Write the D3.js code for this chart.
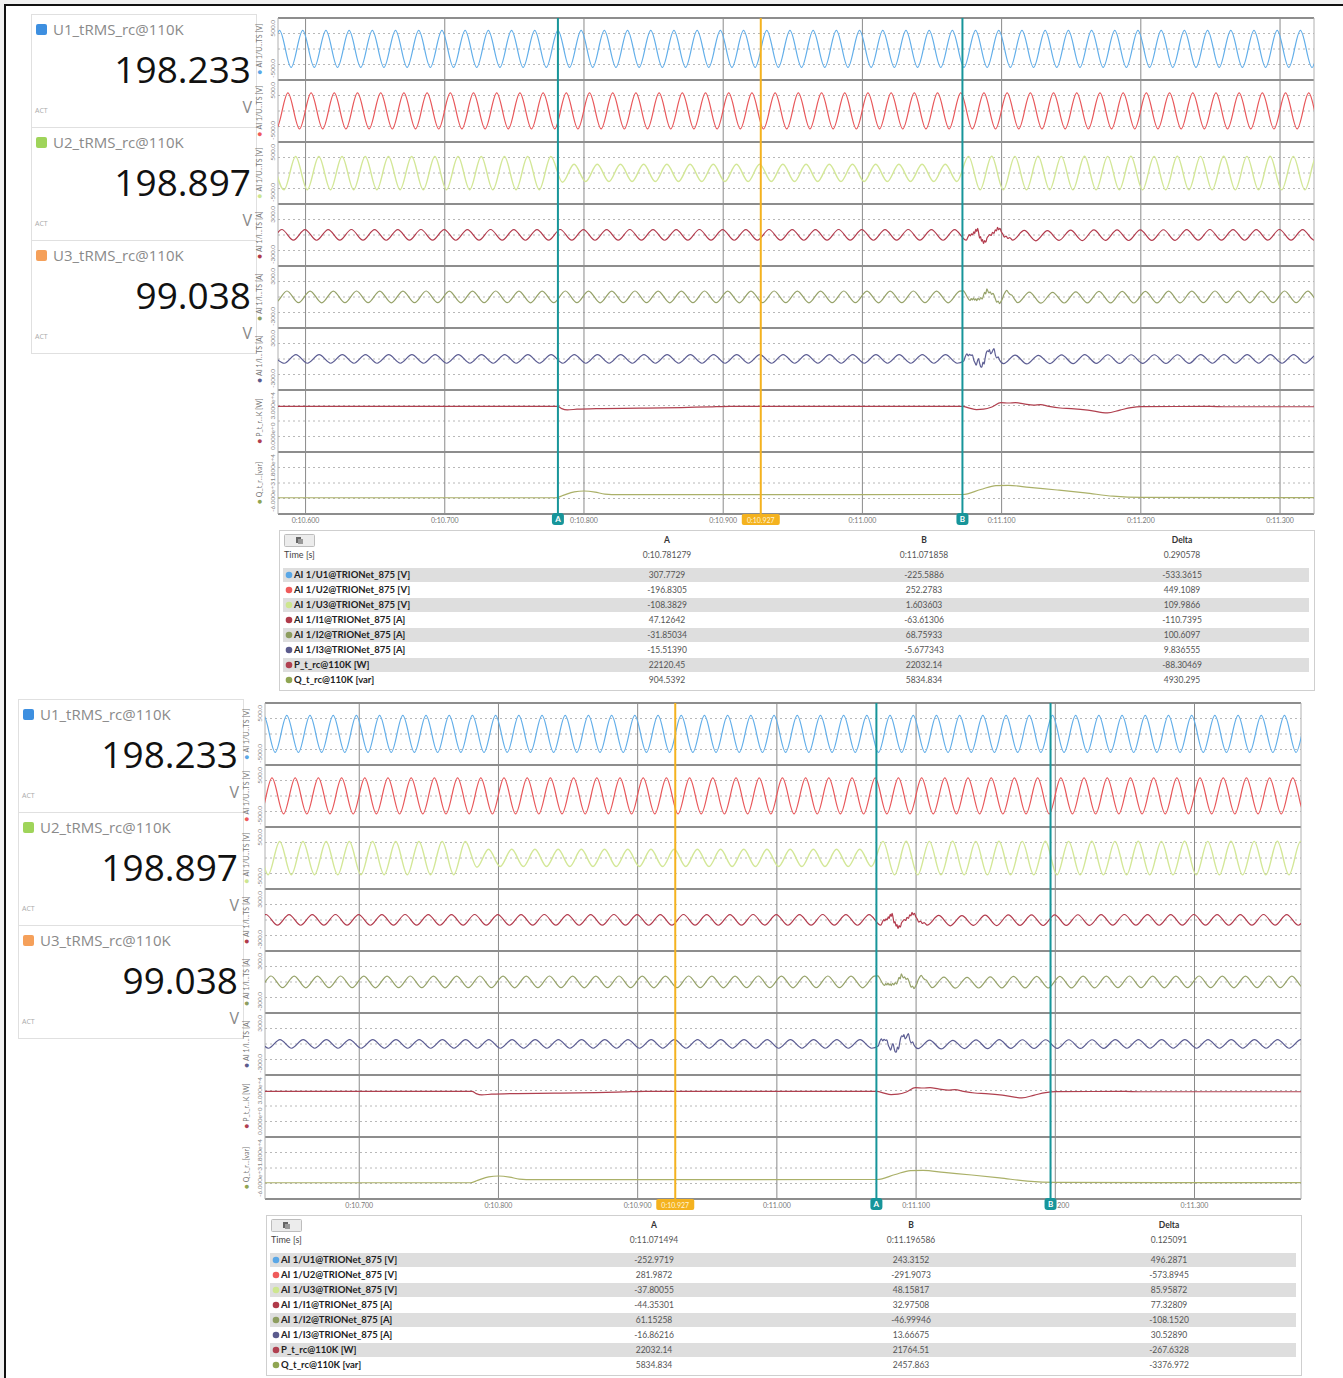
<!DOCTYPE html>
<html><head><meta charset="utf-8">
<script src="https://cdn.jsdelivr.net/npm/d3@7"></script>
<style>
body{margin:0;background:#fff;}
svg{display:block;}
</style></head><body>
<svg id="c" width="1343" height="1378"></svg>
<script>
// ---------------- DATA ----------------
const HALF_PERIOD = 1 / 120;           // 60 Hz half cycle, s
// time of first extremum (a positive peak) for each AC channel
const U1_t0 = 10.56463, U2_t0 = 10.57065, U3_t0 = 10.57621;
const I1_t0 = 10.56625, I2_t0 = 10.56995, I3_t0 = 10.57639;

// magnitudes of successive extrema (peak, trough, peak, ...); null = replaced by the disturbance trace
const U1_ext = [
300,297,301,298,300,297,300,298,301,297, 300,298,301,297,300,298,300,297,301,298,
300,297,301,298,300,297,300,298,301,297, 300,298,301,297,300,298,300,297,301,298,
300,297,301,298,300,297,300,298,301,297, 300,298,301,297,300,298,300,297,301,298,
300,297,301,298,300,297,300,298,301,297, 300,298,301,297,300,298,300,297,301,298,
300,297,301,298,300,297,300,298,301,297, 300,298,301,297,300,298,300,297,301,298];
const U2_ext = [
292,289,293,290,292,289,292,290,293,289, 292,290,293,289,292,290,292,289,293,290,
292,289,293,290,292,289,292,290,293,289, 292,290,293,289,292,290,292,289,293,290,
292,289,293,290,292,289,292,290,293,289, 292,290,293,289,292,290,292,289,293,290,
292,289,293,290,292,289,292,290,293,289, 292,290,293,289,292,290,292,289,293,290,
292,289,293,290,292,289,292,290,293,289, 292,290,293,289,292,290,292,289,293,290];
const U3_ext = [
266,270,267,270,266,271,267,270,266,270, 267,270,266,271,267,270,266,270,267,271,
266,270,267,270,266,150,140,137,141,138, 140,137,141,138,140,137,141,138,140,137,
141,138,140,137,141,138,140,137,141,138, 140,137,141,138,140,137,141,138,140,137,
268,271,269,272,268,271,269,272,268,271, 269,272,268,271,269,272,268,271,269,272,
268,271,269,272,268,271,269,272,268,271, 269,272,268,271,269,272,268,271,269,272];
const I1_ext = [
52,50,53,50,52,51,52,50,53,50, 52,51,52,50,53,50,52,51,52,50,
53,50,52,51,52,50,53,50,52,51, 52,50,53,50,52,51,52,50,53,50,
52,51,52,50,53,50,52,51,52,50, 53,50,52,51,52,50,53,50,52,51,
52,50,null,null,null,50,44,56,42,52, 47,54,49,52,50,53,50,52,51,52,
52,50,53,50,52,51,52,50,53,50, 52,51,52,50,53,50,52,51,52,50];
const I2_ext = [
57,55,58,55,57,56,57,55,58,55, 57,56,57,55,58,55,57,56,57,55,
58,55,57,56,57,55,58,55,57,56, 57,55,58,55,57,56,57,55,58,55,
57,56,57,55,58,55,57,56,57,55, 58,55,57,56,57,55,58,55,57,56,
57,null,null,null,null,55,48,60,45,58, 50,56,55,57,55,58,55,57,56,57,
57,55,58,55,57,56,57,55,58,55, 57,56,57,55,58,55,57,56,57,55];
const I3_ext = [
42,41,43,41,42,41,42,41,43,41, 42,41,42,41,43,41,42,41,42,41,
43,41,42,41,42,41,43,41,42,41, 42,41,43,41,42,41,42,41,43,41,
42,41,42,41,43,41,42,41,42,41, 43,41,42,41,42,41,43,41,42,41,
null,null,null,45,38,48,36,44,40,45, 42,42,41,43,41,42,41,43,41,42,
42,41,43,41,42,41,42,41,43,41, 42,41,42,41,43,41,42,41,42,41];

// disturbance traces [t (s), value]
const I1_noise = [[11.0760,-15],[11.0768,5],[11.0776,-8],[11.0784,10],[11.0792,2],[11.0800,30],[11.0807,15],
[11.0814,55],[11.0821,35],[11.0828,64],[11.0835,20],[11.0842,-30],[11.0849,-15],[11.0856,-60],[11.0863,-45],
[11.0870,-82],[11.0878,-55],[11.0886,-70],[11.0895,-30],[11.0905,-10],[11.0915,5],[11.0925,-5],[11.0935,25],
[11.0945,15],[11.0955,50],[11.0963,40],[11.0971,73],[11.0979,50],[11.0988,65],[11.0997,35],[11.1008,10],
[11.1020,-20],[11.1032,-10],[11.1045,-33],[11.1058,-25]];
const I2_noise = [[11.0725,60],[11.0735,45],[11.0745,20],[11.0755,-5],[11.0765,-25],[11.0774,-32],[11.0782,-15],
[11.0790,-28],[11.0798,-10],[11.0806,-30],[11.0814,-18],[11.0822,-35],[11.0830,-12],[11.0840,-28],[11.0850,-5],
[11.0860,-20],[11.0870,15],[11.0878,45],[11.0886,30],[11.0894,80],[11.0902,55],[11.0910,40],[11.0918,50],
[11.0928,25],[11.0938,35],[11.0948,10],[11.0958,-30],[11.0966,-50],[11.0975,-40],[11.0985,-64],[11.0995,-45],
[11.1005,-20],[11.1015,20],[11.1025,45],[11.1037,64],[11.1050,40],[11.1062,25],[11.1075,16],[11.1090,-15]];
const I3_noise = [[11.0728,-20],[11.0738,20],[11.0750,50],[11.0760,30],[11.0770,45],[11.0780,35],[11.0790,40],
[11.0800,-10],[11.0810,-40],[11.0818,-60],[11.0826,-20],[11.0834,5],[11.0842,-40],[11.0850,-75],[11.0858,-80],
[11.0866,-30],[11.0874,-50],[11.0882,10],[11.0890,60],[11.0898,80],[11.0905,70],[11.0913,90],[11.0921,50],
[11.0929,60],[11.0937,85],[11.0945,100],[11.0955,40],[11.0965,10],[11.0975,20],[11.0985,-10]];

const P_pts = [[10.575,22100],[10.7810,22120],[10.7840,21000],[10.7880,20400],[10.7950,20700],[10.8100,21000],
[10.8400,21200],[10.8700,21500],[10.8900,21850],[10.9050,22100],[11.0719,22120],[11.0770,21200],[11.0820,20500],
[11.0870,20700],[11.0930,21800],[11.0995,23900],[11.1050,23700],[11.1100,23900],[11.1160,23300],[11.1230,22700],
[11.1280,22900],[11.1340,22100],[11.1420,21300],[11.1500,21000],[11.1620,20300],[11.1760,18900],[11.1850,20300],
[11.1930,21500],[11.2000,22000],[11.2500,22032],[11.2600,21900],[11.3850,21900]];
const Q_pts = [[10.575,300],[10.7800,300],[10.7850,1200],[10.7930,2600],[10.8000,2900],[10.8080,2500],[10.8150,1700],
[10.8250,1500],[11.0720,1550],[11.0850,3500],[11.0960,5000],[11.1050,5100],[11.1200,4300],[11.1400,3300],
[11.1600,2200],[11.1800,900],[11.2000,400],[11.3850,350]];

const bandDomains = [[-500,500],[-500,500],[-500,500],[-300,300],[-300,300],[-300,300],[0,30000],[-6000,18000]];
const bandHi = ["500.0","500.0","500.0","300.0","300.0","300.0","3.000e+4","1.800e+4"];
const bandLo = ["-500.0","-500.0","-500.0","-300.0","-300.0","-300.0","0.000e+0","-6.000e+3"];
const bandNames = ["AI 1/U...TS [V]","AI 1/U...TS [V]","AI 1/U...TS [V]","AI 1/I...TS [A]","AI 1/I...TS [A]","AI 1/I...TS [A]","P_t_r...K [W]","Q_t_r...[var]"];

const meterNames = ["U1_tRMS_rc@110K","U2_tRMS_rc@110K","U3_tRMS_rc@110K"];
const meterValues = ["198.233","198.897","99.038"];
const meterUnits = ["V","V","V"];

const rowLabels = ["AI 1/U1@TRIONet_875 [V]","AI 1/U2@TRIONet_875 [V]","AI 1/U3@TRIONet_875 [V]",
"AI 1/I1@TRIONet_875 [A]","AI 1/I2@TRIONet_875 [A]","AI 1/I3@TRIONet_875 [A]","P_t_rc@110K [W]","Q_t_rc@110K [var]"];

const ticksTop = [10.6,10.7,10.8,10.9,11.0,11.1,11.2,11.3];
const ticksBottom = [10.7,10.8,10.9,11.0,11.1,11.2,11.3];
const cursorsTop = [["A",10.781279],["B",11.071858]];
const cursorsBottom = [["A",11.071494],["B",11.196586]];
const orangeT = 10.927, orangeLabel = "0:10.927";

const tableTop = {
  times:["0:10.781279","0:11.071858","0.290578"],
  A:["307.7729","-196.8305","-108.3829","47.12642","-31.85034","-15.51390","22120.45","904.5392"],
  B:["-225.5886","252.2783","1.603603","-63.61306","68.75933","-5.677343","22032.14","5834.834"],
  D:["-533.3615","449.1089","109.9866","-110.7395","100.6097","9.836555","-88.30469","4930.295"]};
const tableBottom = {
  times:["0:11.071494","0:11.196586","0.125091"],
  A:["-252.9719","281.9872","-37.80055","-44.35301","61.15258","-16.86216","22032.14","5834.834"],
  B:["243.3152","-291.9073","48.15817","32.97508","-46.99946","13.66675","21764.51","2457.863"],
  D:["496.2871","-573.8945","85.95872","77.32809","-108.1520","30.52890","-267.6328","-3376.972"]};

// ---------------- STYLE ----------------
const waveColors = ["#62aee9","#e8575a","#d3e797","#b23a4c","#96a269","#5c5d93","#b0404f","#aab068"];
const dotColors  = ["#5aa7e6","#ef5b5b","#cde68f","#b03a4a","#8d9d5f","#5b5b8d","#b04050","#8fa552"];
const meterColors = ["#3d8fe0","#9fd45a","#f5a05a"];
const TEAL = "#17959a", ORANGE = "#f4b21f";

// ---------------- BUILD ----------------
function buildSeries(t0, ext, noise) {
  const pts = [];
  ext.forEach((m, i) => { if (m == null) return; pts.push([t0 + i * HALF_PERIOD, i % 2 === 0 ? m : -m]); });
  if (noise) noise.forEach(p => pts.push(p));
  pts.sort((a, b) => a[0] - b[0]);
  return pts;
}
const seriesList = [
  buildSeries(U1_t0, U1_ext, null), buildSeries(U2_t0, U2_ext, null), buildSeries(U3_t0, U3_ext, null),
  buildSeries(I1_t0, I1_ext, I1_noise), buildSeries(I2_t0, I2_ext, I2_noise), buildSeries(I3_t0, I3_ext, I3_noise),
  P_pts, Q_pts];

const svg = d3.select("#c");
const FONT = "Lato, 'Open Sans', sans-serif";
svg.append("rect").attr("width",1343).attr("height",1378).attr("fill","#fff");
svg.append("rect").attr("width",1343).attr("height",5).attr("fill","#f1f1f1");
svg.append("rect").attr("width",5).attr("height",1378).attr("fill","#f1f1f1");
svg.append("line").attr("x1",4).attr("x2",1343).attr("y1",5).attr("y2",5).attr("stroke","#111").attr("stroke-width",2);
svg.append("line").attr("x1",5).attr("x2",5).attr("y1",4).attr("y2",1378).attr("stroke","#111").attr("stroke-width",2);

let panelId = 0;
function drawPanel(ox, oy, dom, ticks, cursors, tab) {
  panelId++;
  const g = svg.append("g").attr("transform", `translate(${ox},${oy})`);
  const L = 278, R = 1314, T = 18, BH = 62, NB = 8, B = T + NB * BH;
  const x = d3.scaleLinear().domain(dom).range([L, R]);

  // meters
  meterNames.forEach((nm, k) => {
    const y0 = 14 + k * 113;
    g.append("rect").attr("x",31.5).attr("y",y0+0.5).attr("width",225).attr("height",113)
      .attr("fill","#fff").attr("stroke","#e0e0e0");
    g.append("rect").attr("x",36).attr("y",y0+10).attr("width",11).attr("height",11).attr("rx",2).attr("fill",meterColors[k]);
    g.append("text").attr("x",53).attr("y",y0+21).text(nm)
      .attr("font-family","'Open Sans', sans-serif").attr("font-size",15).attr("fill","#8a8a8a");
    g.append("text").attr("x",251).attr("y",y0+69).attr("text-anchor","end").text(meterValues[k])
      .attr("font-family","'Open Sans', sans-serif").attr("font-size",37).attr("fill","#111");
    g.append("text").attr("x",35).attr("y",y0+99).text("ACT")
      .attr("font-family","'Open Sans', sans-serif").attr("font-size",7).attr("fill","#aaa");
    g.append("text").attr("x",252).attr("y",y0+99).attr("text-anchor","end").text(meterUnits[k])
      .attr("font-family","'Open Sans', sans-serif").attr("font-size",16).attr("fill","#888");
  });

  // plot background
  g.append("rect").attr("x",L).attr("y",T).attr("width",R-L).attr("height",B-T).attr("fill","#fff");
  // dotted grid
  for (let b = 0; b < NB; b++) {
    [0.25,0.5,0.75].forEach(f => {
      const yy = T + b*BH + f*BH;
      g.append("line").attr("x1",L).attr("x2",R).attr("y1",yy).attr("y2",yy)
        .attr("stroke","#b8b8b8").attr("stroke-width",1).attr("stroke-dasharray","2,3");
    });
  }
  // vertical grid
  ticks.forEach(t => {
    g.append("line").attr("x1",x(t)).attr("x2",x(t)).attr("y1",T).attr("y2",B)
      .attr("stroke","#8a8a8a").attr("stroke-width",1);
  });
  // band separators
  for (let k = 0; k <= NB; k++) {
    const yy = T + k*BH;
    g.append("line").attr("x1",L).attr("x2",R).attr("y1",yy).attr("y2",yy)
      .attr("stroke","#8d8d8d").attr("stroke-width",1.8);
  }
  g.append("line").attr("x1",L).attr("x2",L).attr("y1",T).attr("y2",B).attr("stroke","#b0b0b0");
  g.append("line").attr("x1",R).attr("x2",R).attr("y1",T).attr("y2",B).attr("stroke","#b0b0b0");

  // clip
  const cid = "clip" + panelId;
  g.append("clipPath").attr("id",cid).append("rect").attr("x",L).attr("y",T).attr("width",R-L).attr("height",B-T);
  const wg = g.append("g").attr("clip-path",`url(#${cid})`);
  seriesList.forEach((pts, b) => {
    const y = d3.scaleLinear().domain(bandDomains[b]).range([T+(b+1)*BH, T+b*BH]);
    const line = d3.line().x(d => x(d[0])).y(d => y(d[1])).curve(d3.curveMonotoneX);
    wg.append("path").attr("d", line(pts)).attr("fill","none")
      .attr("stroke", waveColors[b]).attr("stroke-width", b === 2 ? 1.4 : 1.2);
  });

  // y labels (rotated)
  for (let b = 0; b < NB; b++) {
    const top = T + b*BH, bot = top + BH, cy = top + BH/2;
    const t1 = g.append("text").attr("transform",`translate(262,${cy}) rotate(-90)`).attr("text-anchor","middle")
      .attr("font-family",FONT).attr("font-size",7).attr("fill","#777");
    t1.append("tspan").attr("fill",dotColors[b]).attr("font-size",8).text("● ");
    t1.append("tspan").text(bandNames[b]);
    g.append("text").attr("transform",`translate(275,${top+2}) rotate(-90)`).attr("text-anchor","end")
      .attr("font-family",FONT).attr("font-size",6.5).attr("fill","#888").text(bandHi[b]);
    g.append("text").attr("transform",`translate(275,${bot-2}) rotate(-90)`).attr("text-anchor","start")
      .attr("font-family",FONT).attr("font-size",6.5).attr("fill","#888").text(bandLo[b]);
  }

  // x tick labels (a label partly hidden under a cursor marker shows only its tail, as in the source)
  ticks.forEach(t => {
    const tx = x(t);
    const covered = cursors.some(c => Math.abs(x(c[1]) - tx) < 6);
    g.append("text").attr("x", covered ? tx + 8 : tx).attr("y",523).attr("text-anchor","middle")
      .attr("font-family",FONT).attr("font-size",7).attr("fill","#777")
      .text(covered ? t.toFixed(3).slice(-3) : "0:" + t.toFixed(3));
  });

  // cursors
  g.append("line").attr("x1",x(orangeT)).attr("x2",x(orangeT)).attr("y1",T).attr("y2",B)
    .attr("stroke",ORANGE).attr("stroke-width",2);
  cursors.forEach(c => {
    g.append("line").attr("x1",x(c[1])).attr("x2",x(c[1])).attr("y1",T).attr("y2",B)
      .attr("stroke",TEAL).attr("stroke-width",2);
  });
  g.append("rect").attr("x",x(orangeT)-19).attr("y",514).attr("width",38).attr("height",11).attr("rx",2).attr("fill",ORANGE);
  g.append("text").attr("x",x(orangeT)).attr("y",522.5).attr("text-anchor","middle")
    .attr("font-family",FONT).attr("font-size",7).attr("fill","#fff4d8").text(orangeLabel);
  cursors.forEach(c => {
    const cx = x(c[1]);
    g.append("rect").attr("x",cx-6).attr("y",513).attr("width",12).attr("height",12).attr("rx",3).attr("fill",TEAL);
    g.append("text").attr("x",cx).attr("y",522).attr("text-anchor","middle").attr("font-family",FONT)
      .attr("font-weight","bold").attr("font-size",8).attr("fill","#fff").text(c[0]);
  });

  // table
  const TL = 279, TR = 1314, TT = 530, TB = 690;
  g.append("rect").attr("x",TL+0.5).attr("y",TT+0.5).attr("width",TR-TL).attr("height",TB-TT)
    .attr("fill","#fff").attr("stroke","#cfcfcf");
  g.append("rect").attr("x",284.5).attr("y",534.5).attr("width",30).attr("height",12).attr("rx",1)
    .attr("fill","#ececec").attr("stroke","#bdbdbd");
  g.append("rect").attr("x",296).attr("y",537).attr("width",5).attr("height",6).attr("fill","#666");
  g.append("rect").attr("x",298).attr("y",539).attr("width",5).attr("height",5).attr("fill","#999");
  g.append("text").attr("x",284).attr("y",558).attr("font-family",FONT).attr("font-size",9).attr("fill","#444").text("Time [s]");
  const colX = [667, 924, 1182], heads = ["A","B","Delta"];
  colX.forEach((cx, k) => {
    g.append("text").attr("x",cx).attr("y",543).attr("text-anchor","middle").attr("font-family",FONT)
      .attr("font-weight","bold").attr("font-size",8.5).attr("fill","#333").text(heads[k]);
    g.append("text").attr("x",cx).attr("y",558).attr("text-anchor","middle").attr("font-family",FONT)
      .attr("font-size",8.5).attr("fill","#555").text(tab.times[k]);
  });
  rowLabels.forEach((lab, r) => {
    const cy = 575 + 15*r;
    if (r % 2 === 0) g.append("rect").attr("x",283).attr("y",cy-7).attr("width",1026).attr("height",14).attr("fill","#dedede");
    g.append("circle").attr("cx",289).attr("cy",cy).attr("r",3.3).attr("fill",dotColors[r]);
    g.append("text").attr("x",294).attr("y",cy+3).attr("font-family",FONT).attr("font-weight","bold")
      .attr("font-size",9.5).attr("fill","#222").text(lab);
    [tab.A[r], tab.B[r], tab.D[r]].forEach((v, k) => {
      g.append("text").attr("x",colX[k]).attr("y",cy+3).attr("text-anchor","middle").attr("font-family",FONT)
        .attr("font-size",8.5).attr("fill","#555").text(v);
    });
  });
}

drawPanel(0, 0, [10.5802, 11.3244], ticksTop, cursorsTop, tableTop);
drawPanel(-13, 685, [10.6323, 11.3765], ticksBottom, cursorsBottom, tableBottom);
</script>
</body></html>
